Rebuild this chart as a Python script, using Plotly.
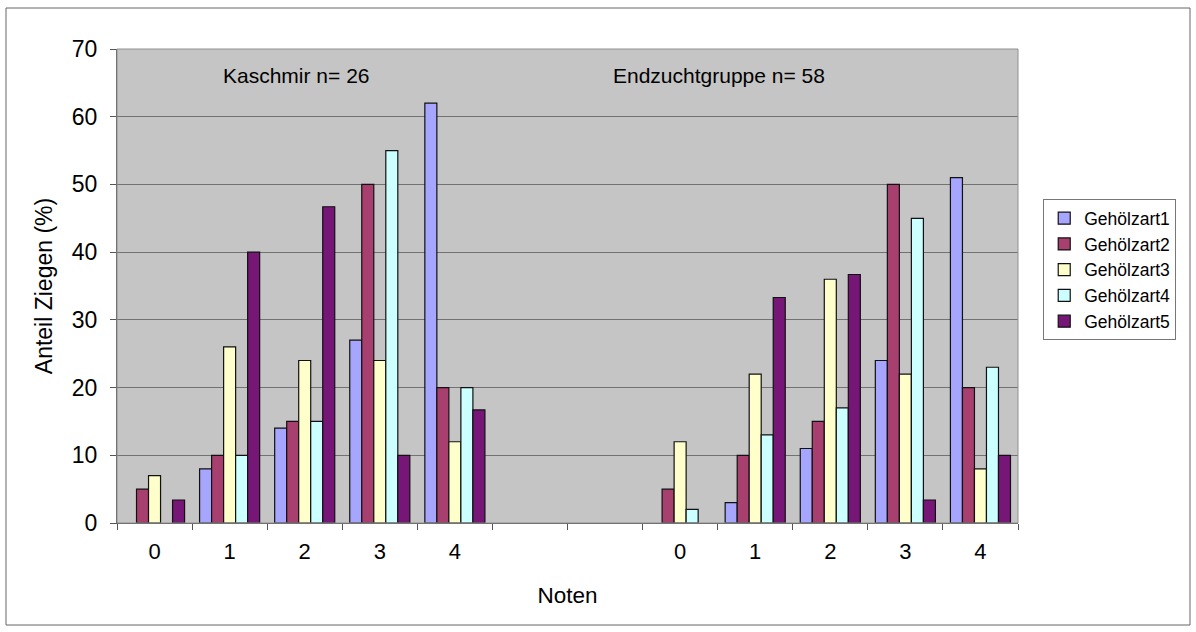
import plotly.graph_objects as go

slots = ["K0", "K1", "K2", "K3", "K4", "gap1", "gap2", "E0", "E1", "E2", "E3", "E4"]
tick_labels = ["0", "1", "2", "3", "4", "", "", "0", "1", "2", "3", "4"]
series_names = ["Gehölzart1", "Gehölzart2", "Gehölzart3", "Gehölzart4", "Gehölzart5"]

# Kaschmir (n=26), Noten 0..4 ; then Endzuchtgruppe (n=58), Noten 0..4
g1 = [0, 8, 14, 27, 62, None, None, 0, 3, 11, 24, 51]
g2 = [5, 10, 15, 50, 20, None, None, 5, 10, 15, 50, 20]
g3 = [7, 26, 24, 24, 12, None, None, 12, 22, 36, 22, 8]
g4 = [0, 10, 15, 55, 20, None, None, 2, 13, 17, 45, 23]
g5 = [3.4, 40, 46.7, 10, 16.7, None, None, 0, 33.3, 36.7, 3.4, 10]
values = [g1, g2, g3, g4, g5]
colors = ["#a6a6ff", "#a8406f", "#ffffcc", "#ccffff", "#761677"]

fig = go.Figure()
for name, vals, col in zip(series_names, values, colors):
    # zero shares are not drawn (as in the original chart)
    shown = [v if v else None for v in vals]
    fig.add_trace(go.Bar(
        x=slots, y=shown, name=name,
        marker=dict(color=col, line=dict(color="#111111", width=1.2)),
    ))

FONT = "Arial, Liberation Sans, sans-serif"
fig.update_layout(
    width=1196, height=632,
    margin=dict(l=117, r=178, t=49, b=109),
    paper_bgcolor="white",
    plot_bgcolor="#c5c5c5",
    barmode="group",
    bargap=0.2, bargroupgap=0,
    font=dict(family=FONT, color="black"),
    showlegend=True,
    legend=dict(
        x=1.028, y=0.683, xanchor="left", yanchor="top",
        bordercolor="#777777", borderwidth=1,
        font=dict(size=17.5), tracegroupgap=0,
        itemwidth=30,
    ),
    xaxis=dict(
        type="category", categoryorder="array", categoryarray=slots,
        tickmode="array", tickvals=slots, ticktext=tick_labels,
        tickson="boundaries", ticks="outside", ticklen=6, tickcolor="#555555",
        showline=True, linecolor="#555555", linewidth=1,
        tickfont=dict(size=22), showgrid=False,
        ticklabelstandoff=9,
        title=dict(text="Noten", font=dict(size=22.5), standoff=23),
        range=[-0.5, 11.5],
    ),
    yaxis=dict(
        range=[0, 70], dtick=10, tick0=0,
        ticks="outside", ticklen=6, tickcolor="#555555",
        showline=True, linecolor="#555555", linewidth=1,
        gridcolor="#727272", gridwidth=1,
        tickfont=dict(size=23),
        ticklabelstandoff=8,
        title=dict(text="Anteil Ziegen (%)", font=dict(size=23), standoff=12),
        zeroline=False,
    ),
)

fig.add_annotation(text="Kaschmir n= 26", xref="paper", yref="paper",
                   x=(296.5 - 117) / 901, y=(523 - 75) / 474, showarrow=False,
                   font=dict(size=21), xanchor="center", yanchor="middle")
fig.add_annotation(text="Endzuchtgruppe n= 58", xref="paper", yref="paper",
                   x=(719 - 117) / 901, y=(523 - 75) / 474, showarrow=False,
                   font=dict(size=21), xanchor="center", yanchor="middle")

# outer chart frame
fig.add_shape(type="rect", xref="paper", yref="paper",
              x0=(6 - 117) / 901, x1=(1190 - 117) / 901,
              y0=(523 - 625) / 474, y1=(523 - 8) / 474,
              line=dict(color="#666666", width=1), layer="below")
# top/right plot border
fig.add_shape(type="rect", xref="paper", yref="paper", x0=0, x1=1, y0=0, y1=1,
              line=dict(color="#909090", width=1))

fig.write_html("out.html")
